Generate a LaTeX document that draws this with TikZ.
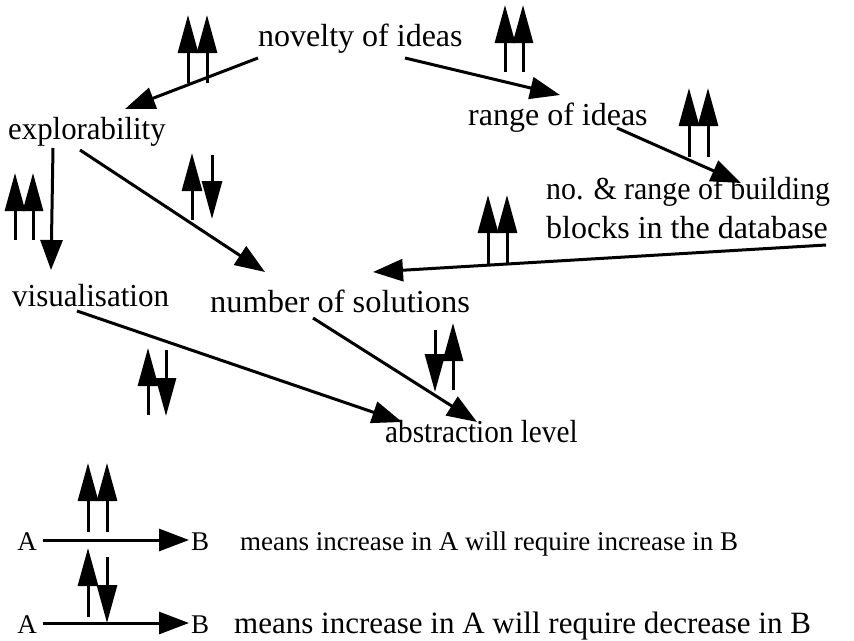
\documentclass[tikz,border=0pt]{standalone}
\usepackage{fontspec}
\usepackage{graphicx}
\setmainfont{Liberation Serif}
\usetikzlibrary{arrows.meta}
\newcommand{\narrow}[2]{\scalebox{#1}[1]{#2}}
\begin{document}
\begin{tikzpicture}[x=1pt,y=-1pt,
  lbl/.style={anchor=base west,inner sep=0pt,font=\fontsize{32}{38}\selectfont},
  leg/.style={anchor=base west,inner sep=0pt,font=\fontsize{27}{32}\selectfont},
  legbig/.style={anchor=base west,inner sep=0pt,font=\fontsize{31}{36}\selectfont},
  link/.style={line width=3pt,-{Triangle[length=30pt,width=22pt]}},
  sign/.style={line width=3pt,-{Triangle[length=38pt,width=20pt]}}]
\useasboundingbox (0,0) rectangle (854,640);

% concepts
\node[lbl] (nov) at (258,46) {novelty of ideas};
\node[lbl] (expl) at (8,139) {\narrow{0.963}{explorability}};
\node[lbl] (range) at (468,125) {range of ideas};
\node[lbl] (blocks1) at (546,199) {\narrow{0.934}{no. \& range of building}};
\node[lbl] (blocks2) at (546,238) {blocks in the database};
\node[lbl] (vis) at (12,306) {\narrow{0.97}{visualisation}};
\node[lbl] (num) at (210,312) {\narrow{1.015}{number of solutions}};
\node[lbl] (abs) at (385,442) {\narrow{0.914}{abstraction level}};

% connector end points beside the concepts
\coordinate (novL) at (258,58);
\coordinate (novR) at (405,58);
\coordinate (explIn) at (125,109);
\coordinate (explDown) at (53,148);
\coordinate (explOut) at (80,150);
\coordinate (rangeIn) at (560,95);
\coordinate (rangeOut) at (617,128);
\coordinate (blocksIn) at (741,183);
\coordinate (blocksOut) at (826,245);
\coordinate (visIn) at (51,270);
\coordinate (visOut) at (77,311);
\coordinate (numIn) at (265,272);
\coordinate (numIn2) at (373,272);
\coordinate (numOut) at (313,318);
\coordinate (absIn1) at (402,422);
\coordinate (absIn2) at (477,422);

% influences
\draw[link] (novL) -- (explIn);
\draw[link] (novR) -- (rangeIn);
\draw[link] (rangeOut) -- (blocksIn);
\draw[link] (explDown) -- (visIn);
\draw[link] (explOut) -- (numIn);
\draw[link] (blocksOut) -- (numIn2);
\draw[link] (visOut) -- (absIn1);
\draw[link] (numOut) -- (absIn2);

% direction signs
\draw[sign] (188,83) -- (188,15);
\draw[sign] (207,83) -- (207,15);
\draw[sign] (505,72) -- (505,5);
\draw[sign] (523,72) -- (523,5);
\draw[sign] (689,157) -- (689,88);
\draw[sign] (708,157) -- (708,88);
\draw[sign] (15,240) -- (15,173);
\draw[sign] (33,240) -- (33,173);
\draw[sign] (192,220) -- (192,153);
\draw[sign] (212,155) -- (212,219);
\draw[sign] (488,266) -- (488,195);
\draw[sign] (507,264) -- (507,195);
\draw[sign] (148,415) -- (148,348);
\draw[sign] (166,350) -- (166,416);
\draw[sign] (435,330) -- (435,392);
\draw[sign] (453,390) -- (453,323);

% legend
\node[leg,anchor=base] (a1) at (27,550) {A};
\node[leg,anchor=base west] (b1) at (191,550) {B};
\node[leg] (t1) at (240,550) {means increase in A will require increase in B};
\coordinate (a1r) at (43,540);
\coordinate (b1l) at (189,540);
\draw[link] (a1r) -- (b1l);
\draw[sign] (88,532) -- (88,463);
\draw[sign] (107,532) -- (107,463);

\node[leg,anchor=base] (a2) at (27,633) {A};
\node[leg,anchor=base west] (b2) at (191,633) {B};
\node[legbig] (t2) at (234,633) {means increase in A will require decrease in B};
\coordinate (a2r) at (43,623);
\coordinate (b2l) at (189,623);
\draw[link] (a2r) -- (b2l);
\draw[sign] (88,617) -- (88,548);
\draw[sign] (107,557) -- (107,623);
\end{tikzpicture}
\end{document}
